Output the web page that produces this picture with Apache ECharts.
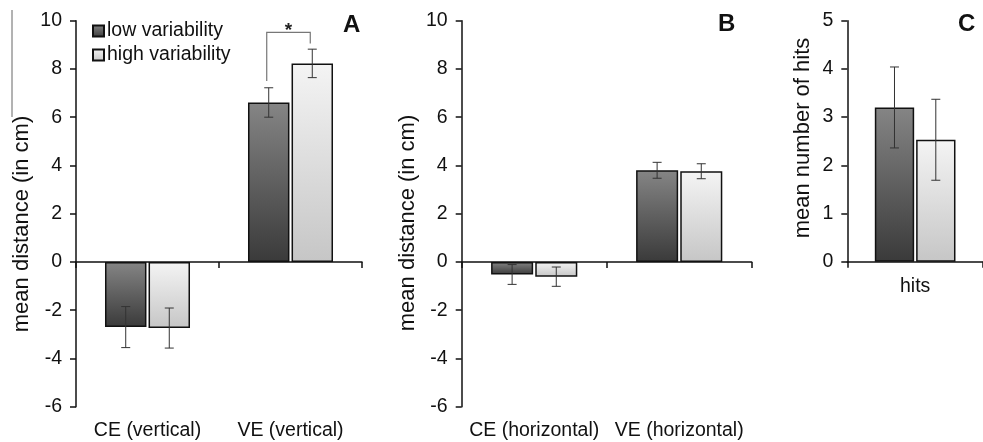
<!DOCTYPE html>
<html><head><meta charset="utf-8">
<script src="https://cdn.jsdelivr.net/npm/echarts@6/dist/echarts.min.js"></script>
<style>html,body{margin:0;padding:0;background:#fff}#c{width:983px;height:442px}</style>
</head><body><div id="c"></div>
<script>
// ---- data ----
const catsA = ['CE (vertical)', 'VE (vertical)'];
const catsB = ['CE (horizontal)', 'VE (horizontal)'];
const catsC = ['hits'];
const seriesNames = ['low variability', 'high variability'];
const lowA = [-2.70, 6.61];
const lowAErr = [0.85, 0.61];
const highA = [-2.74, 8.23];
const highAErr = [0.83, 0.59];
const lowB = [-0.52, 3.80];
const lowBErr = [0.41, 0.33];
const highB = [-0.61, 3.76];
const highBErr = [0.40, 0.31];
const lowC = [3.20];
const lowCErr = [0.84];
const highC = [2.53];
const highCErr = [0.84];
const distAxis = [-6, 10, 2];   // min, max, interval
const hitsAxis = [0, 5, 1];
const sigA = [1, 9.52, 7.5, 9.06]; // category, bracket top, left leg end, right leg end
const panelLetters = ['A', 'B', 'C'];
const yTitles = ['mean distance (in cm)', 'mean distance (in cm)', 'mean number of hits'];

// ---- styles ----
const FONT = 'Liberation Sans, Arial, sans-serif';
const BW = 0.29, GAP = 0.05;
const OFF = (BW + BW * GAP) / 2;
const lowColor = new echarts.graphic.LinearGradient(0, 0, 0, 1, [{offset: 0, color: '#858585'}, {offset: 1, color: '#3a3a3a'}]);
const highColor = new echarts.graphic.LinearGradient(0, 0, 0, 1, [{offset: 0, color: '#f4f4f4'}, {offset: 1, color: '#c6c6c6'}]);

function barSeries(name, data, xi, yi, color) {
  return {
    type: 'bar', name: name, data: data, xAxisIndex: xi, yAxisIndex: yi,
    barWidth: (BW * 100) + '%', barGap: (GAP * 100) + '%',
    itemStyle: {color: color, borderColor: '#111', borderWidth: 1.5},
    z: 2
  };
}
function errSeries(vals, errs, sign, xi, yi) {
  return {
    type: 'custom', xAxisIndex: xi, yAxisIndex: yi, z: 5, silent: true,
    data: vals.map((v, i) => [i, v, errs[i]]),
    encode: {x: 0, y: 1},
    renderItem: function (params, api) {
      const x = api.value(0), v = api.value(1), e = api.value(2);
      const bw = api.size([1, 0])[0];
      const off = sign * OFF * bw;
      const t = api.coord([x, v + e]), b = api.coord([x, v - e]);
      const cx = t[0] + off, cap = 4.5;
      const st = {stroke: '#333', lineWidth: 1};
      return {type: 'group', children: [
        {type: 'line', shape: {x1: cx, y1: t[1], x2: cx, y2: b[1]}, style: st},
        {type: 'line', shape: {x1: cx - cap, y1: t[1], x2: cx + cap, y2: t[1]}, style: st},
        {type: 'line', shape: {x1: cx - cap, y1: b[1], x2: cx + cap, y2: b[1]}, style: st}
      ]};
    }
  };
}
function yAxis(gi, range) {
  return {
    type: 'value', gridIndex: gi, min: range[0], max: range[1], interval: range[2],
    splitLine: {show: false},
    axisLine: {show: true, lineStyle: {color: '#111', width: 1.5}},
    axisTick: {show: true, length: 6, lineStyle: {color: '#111', width: 1.5}},
    axisLabel: {fontSize: 19.5, color: '#111', margin: 14, fontFamily: FONT}
  };
}
function xLine(gi, cats) {
  return {
    type: 'category', gridIndex: gi, data: cats,
    axisLine: {show: true, onZero: true, lineStyle: {color: '#111', width: 1.5}},
    axisTick: {show: true, length: 6, lineStyle: {color: '#111', width: 1.5}},
    axisLabel: {show: false}, splitLine: {show: false}
  };
}
function xLabels(gi, cats) {
  return {
    type: 'category', gridIndex: gi, data: cats, position: 'bottom',
    axisLine: {show: false, onZero: false}, axisTick: {show: false},
    axisLabel: {interval: 0, fontSize: 19.5, color: '#111', margin: 14, fontFamily: FONT},
    splitLine: {show: false}
  };
}
function yTitle(text, x, y) {
  return {type: 'text', x: x, y: y, rotation: Math.PI / 2,
    style: {text: text, align: 'center', verticalAlign: 'middle', font: '22px ' + FONT, fill: '#111'}};
}

const option = {
  animation: false,
  textStyle: {fontFamily: FONT},
  grid: [
    {left: 76, top: 20.7, width: 286, height: 386},
    {left: 461.7, top: 20.7, width: 290, height: 386},
    {left: 847.3, top: 20.7, width: 144, height: 241}
  ],
  legend: {
    data: seriesNames, orient: 'vertical', left: 92, top: 21, padding: 0,
    icon: 'rect', itemWidth: 11, itemHeight: 11, itemGap: 4,
    textStyle: {fontSize: 19.5, color: '#111', padding: [0, 0, 0, -2], fontFamily: FONT}
  },
  xAxis: [
    xLine(0, catsA), xLabels(0, catsA),
    xLine(1, catsB), xLabels(1, catsB),
    Object.assign(xLine(2, catsC), {axisLabel: {show: true, interval: 0, fontSize: 19.5, color: '#111', margin: 15, fontFamily: FONT}})
  ],
  yAxis: [
    yAxis(0, distAxis),
    yAxis(1, distAxis),
    yAxis(2, hitsAxis)
  ],
  series: [
    barSeries(seriesNames[0], lowA, 0, 0, lowColor),
    barSeries(seriesNames[1], highA, 0, 0, highColor),
    barSeries(seriesNames[0], lowB, 2, 1, lowColor),
    barSeries(seriesNames[1], highB, 2, 1, highColor),
    barSeries(seriesNames[0], lowC, 4, 2, lowColor),
    barSeries(seriesNames[1], highC, 4, 2, highColor),
    errSeries(lowA, lowAErr, -1, 0, 0),
    errSeries(highA, highAErr, 1, 0, 0),
    errSeries(lowB, lowBErr, -1, 2, 1),
    errSeries(highB, highBErr, 1, 2, 1),
    errSeries(lowC, lowCErr, -1, 4, 2),
    errSeries(highC, highCErr, 1, 4, 2),
    {
      type: 'custom', xAxisIndex: 0, yAxisIndex: 0, z: 5, silent: true,
      data: [sigA], encode: {x: 0, y: 1},
      renderItem: function (params, api) {
        const x = api.value(0);
        const bw = api.size([1, 0])[0];
        const top = api.coord([x, api.value(1)]);
        const l = api.coord([x, api.value(2)]);
        const r = api.coord([x, api.value(3)]);
        const x1 = top[0] - OFF * bw - 2, x2 = top[0] + OFF * bw - 2;
        return {type: 'group', children: [
          {type: 'polyline', shape: {points: [[x1, l[1]], [x1, top[1]], [x2, top[1]], [x2, r[1]]]},
           style: {stroke: '#777', lineWidth: 1.2, fill: null}},
          {type: 'text', style: {text: '*', x: (x1 + x2) / 2, y: top[1] - 2, align: 'center', verticalAlign: 'middle',
           font: 'bold 19px ' + FONT, fill: '#222'}}
        ]};
      }
    }
  ],
  graphic: [
    yTitle(yTitles[0], 22, 224),
    yTitle(yTitles[1], 408, 223),
    yTitle(yTitles[2], 803, 138),
    {type: 'text', left: 343, top: 13, style: {text: panelLetters[0], font: 'bold 24px ' + FONT, fill: '#111'}},
    {type: 'text', left: 718, top: 12, style: {text: panelLetters[1], font: 'bold 24px ' + FONT, fill: '#111'}},
    {type: 'text', left: 958, top: 12, style: {text: panelLetters[2], font: 'bold 24px ' + FONT, fill: '#111'}},
    {type: 'line', shape: {x1: 12, y1: 10, x2: 12, y2: 117}, style: {stroke: '#666', lineWidth: 1}}
  ]
};
const chart = echarts.init(document.getElementById('c'));
chart.setOption(option);
</script></body></html>
